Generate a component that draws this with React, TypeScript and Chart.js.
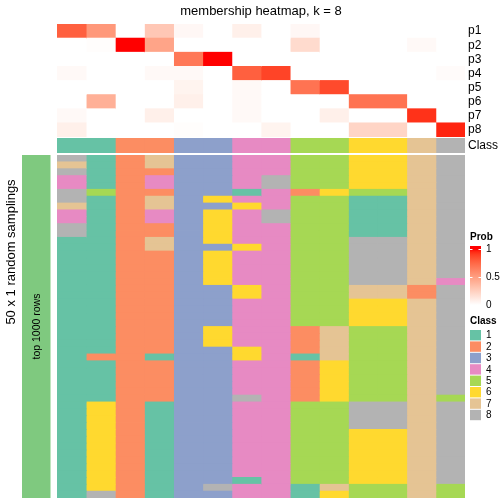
import React, { useEffect, useRef } from 'react';
import { Chart, registerables } from 'chart.js';
Chart.register(...registerables);

// ---------- data ----------
const titleText = 'membership heatmap, k = 8';
const columnLabels = ['c1', 'c2', 'c3', 'c4', 'c5', 'c6', 'c7', 'c8', 'c9', 'c10', 'c11', 'c12', 'c13', 'c14'];
const probRowLabels = ['p1', 'p2', 'p3', 'p4', 'p5', 'p6', 'p7', 'p8'];

const p1 = [0.78, 0.53, 0, 0.29, 0.04, 0, 0.08, 0, 0.04, 0, 0, 0, 0, 0];
const p2 = [0, 0.01, 1, 0.47, 0, 0, 0, 0, 0.19, 0, 0, 0, 0.03, 0];
const p3 = [0, 0, 0, 0, 0.68, 1, 0, 0, 0, 0, 0, 0, 0, 0];
const p4 = [0.03, 0, 0, 0.03, 0.03, 0, 0.78, 0.88, 0, 0, 0, 0, 0, 0.02];
const p5 = [0, 0, 0, 0, 0.06, 0, 0.03, 0, 0.7, 0.86, 0, 0, 0, 0];
const p6 = [0, 0.41, 0, 0, 0.08, 0, 0.03, 0, 0, 0, 0.7, 0.7, 0, 0];
const p7 = [0.03, 0, 0, 0.08, 0, 0, 0.03, 0, 0, 0.08, 0, 0, 0.93, 0];
const p8 = [0.08, 0, 0, 0, 0.01, 0, 0, 0.06, 0, 0, 0.22, 0.22, 0, 0.96];
const probRows = [p1, p2, p3, p4, p5, p6, p7, p8];

const columnClass = [1, 1, 2, 2, 3, 3, 4, 4, 5, 5, 6, 6, 7, 8];
const classLabels = ['1', '2', '3', '4', '5', '6', '7', '8'];
const classColors = ['#66C2A5', '#FC8D62', '#8DA0CB', '#E78AC3', '#A6D854', '#FFD92F', '#E5C494', '#B3B3B3'];

// class of each of the 50 samplings (rows, top to bottom) for each column
const s01 = [8,7,8,4,4,8,8,7,4,4, 8,8,1,1,1,1,1,1,1,1, 1,1,1,1,1,1,1,1,1,1, 1,1,1,1,1,1,1,1,1,1, 1,1,1,1,1,1,1,1,1,1];
const s02 = [1,1,1,1,1,5,1,1,1,1, 1,1,1,1,1,1,1,1,1,1, 1,1,1,1,1,1,1,1,1,2, 1,1,1,1,1,1,6,6,6,6, 6,6,6,6,6,6,6,6,6,8];
const s03 = [2,2,2,2,2,2,2,2,2,2, 2,2,2,2,2,2,2,2,2,2, 2,2,2,2,2,2,2,2,2,2, 2,2,2,2,2,2,2,2,2,2, 2,2,2,2,2,2,2,2,2,2];
const s04 = [7,7,2,4,4,2,7,7,4,4, 2,2,7,7,2,2,2,2,2,2, 2,2,2,2,2,2,2,2,2,1, 2,2,2,2,2,2,1,1,1,1, 1,1,1,1,1,1,1,1,1,1];
const s05 = [3,3,3,3,3,3,3,3,3,3, 3,3,3,3,3,3,3,3,3,3, 3,3,3,3,3,3,3,3,3,3, 3,3,3,3,3,3,3,3,3,3, 3,3,3,3,3,3,3,3,3,3];
const s06 = [3,3,3,3,3,3,6,3,6,6, 6,6,6,3,6,6,6,6,6,3, 3,3,3,3,3,6,6,6,3,3, 3,3,3,3,3,3,3,3,3,3, 3,3,3,3,3,3,3,3,8,3];
const s07 = [4,4,4,4,4,1,4,6,4,4, 4,4,4,6,4,4,4,4,4,6, 6,4,4,4,4,4,4,4,6,6, 4,4,4,4,4,8,4,4,4,4, 4,4,4,4,4,4,4,1,4,4];
const s08 = [4,4,4,8,8,4,4,4,8,8, 4,4,4,4,4,4,4,4,4,4, 4,4,4,4,4,4,4,4,4,4, 4,4,4,4,4,4,4,4,4,4, 4,4,4,4,4,4,4,4,4,4];
const s09 = [5,5,5,5,5,2,5,5,5,5, 5,5,5,5,5,5,5,5,5,5, 5,5,5,5,5,2,2,2,2,1, 2,2,2,2,2,2,5,5,5,5, 5,5,5,5,5,5,5,5,1,1];
const s10 = [5,5,5,5,5,6,5,5,5,5, 5,5,5,5,5,5,5,5,5,5, 5,5,5,5,5,7,7,7,7,7, 6,6,6,6,6,6,5,5,5,5, 5,5,5,5,5,5,5,5,7,6];
const s11 = [6,6,6,6,6,5,1,1,1,1, 1,1,8,8,8,8,8,8,8,7, 7,6,6,6,6,5,5,5,5,5, 5,5,5,5,5,5,8,8,8,8, 6,6,6,6,6,6,6,6,5,5];
const s12 = [6,6,6,6,6,5,1,1,1,1, 1,1,8,8,8,8,8,8,8,7, 7,6,6,6,6,5,5,5,5,5, 5,5,5,5,5,5,8,8,8,8, 6,6,6,6,6,6,6,6,5,5];
const s13 = [7,7,7,7,7,7,7,7,7,7, 7,7,7,7,7,7,7,7,7,2, 2,7,7,7,7,7,7,7,7,7, 7,7,7,7,7,7,7,7,7,7, 7,7,7,7,7,7,7,7,7,7];
const s14 = [8,8,8,8,8,8,8,8,8,8, 8,8,8,8,8,8,8,8,4,8, 8,8,8,8,8,8,8,8,8,8, 8,8,8,8,8,5,8,8,8,8, 8,8,8,8,8,8,8,8,5,5];
const samplingColumns = [s01, s02, s03, s04, s05, s06, s07, s08, s09, s10, s11, s12, s13, s14];
const samplingLabels = s01.map((_, i) => 'sampling ' + (i + 1));

const probLegendTicks = [1, 0.5, 0];

// ---------- colour helpers ----------
const FONT = '"Liberation Sans", Arial, Helvetica, sans-serif';
const annotationColor = '#7FC97F';

function toLin(c: number) { c /= 255; return c <= 0.04045 ? c / 12.92 : Math.pow((c + 0.055) / 1.055, 2.4); }
function fromLin(c: number) { const v = c <= 0.0031308 ? 12.92 * c : 1.055 * Math.pow(c, 1 / 2.4) - 0.055; return Math.max(0, Math.min(255, Math.round(v * 255))); }
function rgbToLab(r: number, g: number, b: number) {
  const R = toLin(r), G = toLin(g), B = toLin(b);
  const X = (0.4124564 * R + 0.3575761 * G + 0.1804375 * B) / 0.95047;
  const Y = 0.2126729 * R + 0.7151522 * G + 0.072175 * B;
  const Z = (0.0193339 * R + 0.119192 * G + 0.9503041 * B) / 1.08883;
  const f = (t: number) => (t > 0.008856 ? Math.cbrt(t) : 7.787 * t + 16 / 116);
  const fx = f(X), fy = f(Y), fz = f(Z);
  return [116 * fy - 16, 500 * (fx - fy), 200 * (fy - fz)];
}
function labToRgb(L: number, a: number, b: number) {
  const fy = (L + 16) / 116, fx = fy + a / 500, fz = fy - b / 200;
  const fi = (t: number) => (t > 0.206893 ? t * t * t : (t - 16 / 116) / 7.787);
  const X = fi(fx) * 0.95047, Y = fi(fy), Z = fi(fz) * 1.08883;
  const R = 3.2404542 * X - 1.5371385 * Y - 0.4985314 * Z;
  const G = -0.969266 * X + 1.8760108 * Y + 0.041556 * Z;
  const B = 0.0556434 * X - 0.2040259 * Y + 1.0572252 * Z;
  return `rgb(${fromLin(R)},${fromLin(G)},${fromLin(B)})`;
}
const LAB_WHITE = rgbToLab(255, 255, 255);
const LAB_RED = rgbToLab(255, 0, 0);
function probColor(v: number) {
  const t = Math.max(0, Math.min(1, v));
  return labToRgb(
    LAB_WHITE[0] + (LAB_RED[0] - LAB_WHITE[0]) * t,
    LAB_WHITE[1] + (LAB_RED[1] - LAB_WHITE[1]) * t,
    LAB_WHITE[2] + (LAB_RED[2] - LAB_WHITE[2]) * t,
  );
}

// ---------- datasets ----------
const cellCommon = { grouped: false, barPercentage: 1, categoryPercentage: 1, inflateAmount: 0.4, borderWidth: 0, xAxisID: 'x' };

const topDatasets = columnLabels.map((_, c) => ({
  ...cellCommon,
  yAxisID: 'yTop',
  data: probRows.map(() => [c, c + 1]),
  backgroundColor: probRows.map((row) => probColor(row[c])),
}));

const classDatasets = columnLabels.map((_, c) => ({
  ...cellCommon,
  yAxisID: 'yClass',
  data: [[c, c + 1]],
  backgroundColor: classColors[columnClass[c] - 1],
}));

const bottomDatasets = samplingColumns.map((col, c) => ({
  ...cellCommon,
  yAxisID: 'yBot',
  data: col.map(() => [c, c + 1]),
  backgroundColor: col.map((k) => classColors[k - 1]),
}));

// ---------- decorations ----------
const decorPlugin = {
  id: 'decor',
  afterDraw(chart: any) {
    const ctx = chart.ctx as CanvasRenderingContext2D;
    const area = chart.chartArea;
    const yTop = chart.scales.yTop, yClass = chart.scales.yClass, yBot = chart.scales.yBot;
    ctx.save();
    ctx.fillStyle = '#000';
    ctx.textBaseline = 'middle';

    // title
    ctx.font = `13px ${FONT}`;
    ctx.textAlign = 'center';
    ctx.fillText(titleText, (area.left + area.right) / 2, 11);

    // row names
    ctx.font = `12px ${FONT}`;
    ctx.textAlign = 'left';
    probRowLabels.forEach((lab, i) => ctx.fillText(lab, area.right + 3, yTop.getPixelForValue(i)));
    ctx.fillText('Class', area.right + 3, yClass.getPixelForValue(0));

    // row annotation
    ctx.fillStyle = annotationColor;
    ctx.fillRect(22, yBot.top, 28.5, yBot.bottom - yBot.top);
    ctx.fillStyle = '#000';
    ctx.save();
    ctx.translate(37.5, (yBot.top + yBot.bottom) / 2);
    ctx.rotate(-Math.PI / 2);
    ctx.textAlign = 'center';
    ctx.font = `10.5px ${FONT}`;
    ctx.fillText('top 1000 rows', 0, 0);
    ctx.restore();

    ctx.save();
    ctx.translate(11, 252);
    ctx.rotate(-Math.PI / 2);
    ctx.textAlign = 'center';
    ctx.font = `13px ${FONT}`;
    ctx.fillText('50 x 1 random samplings', 0, 0);
    ctx.restore();

    // Prob legend
    const lx = 470, lw = 11;
    ctx.textAlign = 'left';
    ctx.font = `bold 10px ${FONT}`;
    ctx.fillText('Prob', lx, 237);
    const y0 = 305, y1 = 249; // positions of 0 and 1
    const gTop = 246, gBot = 307;
    const grad = ctx.createLinearGradient(0, y0, 0, y1);
    for (let i = 0; i <= 20; i++) grad.addColorStop(i / 20, probColor(i / 20));
    ctx.fillStyle = grad;
    ctx.fillRect(lx, gTop, lw, gBot - gTop);
    ctx.strokeStyle = '#fff';
    ctx.lineWidth = 1;
    probLegendTicks.forEach((v) => {
      const y = Math.round(y0 - (y0 - y1) * v) + 0.5;
      ctx.beginPath();
      ctx.moveTo(lx, y); ctx.lineTo(lx + 2.5, y);
      ctx.moveTo(lx + lw - 2.5, y); ctx.lineTo(lx + lw, y);
      ctx.stroke();
    });
    ctx.fillStyle = '#000';
    ctx.font = `10px ${FONT}`;
    probLegendTicks.forEach((v) => ctx.fillText(String(v), lx + lw + 5, y0 - (y0 - y1) * v));

    // Class legend
    ctx.font = `bold 10px ${FONT}`;
    ctx.fillText('Class', lx, 321);
    const bTop = 329.5, bh = 11.4;
    ctx.font = `10px ${FONT}`;
    classLabels.forEach((lab, i) => {
      ctx.fillStyle = classColors[i];
      ctx.fillRect(lx, bTop + i * bh + 0.5, lw, bh - 1);
      ctx.fillStyle = '#000';
      ctx.fillText(lab, lx + lw + 5, bTop + i * bh + bh / 2 + 0.5);
    });
    ctx.restore();
  },
};

export default function App() {
  const ref = useRef<HTMLCanvasElement>(null);
  useEffect(() => {
    document.body.style.margin = '0';
    const chart = new Chart(ref.current as HTMLCanvasElement, {
      type: 'bar',
      data: {
        labels: samplingLabels,
        datasets: [...topDatasets, ...classDatasets, ...bottomDatasets] as any,
      },
      options: {
        indexAxis: 'y',
        responsive: false,
        animation: false,
        devicePixelRatio: 1,
        layout: { padding: { left: 57, right: 39, top: 24, bottom: 6 } },
        plugins: { legend: { display: false }, title: { display: false }, tooltip: { enabled: false } },
        scales: {
          x: { type: 'linear', min: 0, max: 14, display: false },
          yTop: { type: 'category', labels: probRowLabels, offset: true, position: 'left', stack: 'rows', stackWeight: 113, weight: 5, display: false },
          yGapA: { type: 'category', labels: [''], offset: true, position: 'left', stack: 'rows', stackWeight: 1, weight: 4, display: false },
          yClass: { type: 'category', labels: ['Class'], offset: true, position: 'left', stack: 'rows', stackWeight: 15, weight: 3, display: false },
          yGapB: { type: 'category', labels: [''], offset: true, position: 'left', stack: 'rows', stackWeight: 2, weight: 2, display: false },
          yBot: { type: 'category', labels: samplingLabels, offset: true, position: 'left', stack: 'rows', stackWeight: 343, weight: 1, display: false },
        },
      } as any,
      plugins: [decorPlugin],
    });
    return () => chart.destroy();
  }, []);
  return (
    <div style={{ width: 504, height: 504, position: 'relative', background: '#fff' }}>
      <canvas ref={ref} width={504} height={504} style={{ display: 'block', width: 504, height: 504 }} />
    </div>
  );
}
